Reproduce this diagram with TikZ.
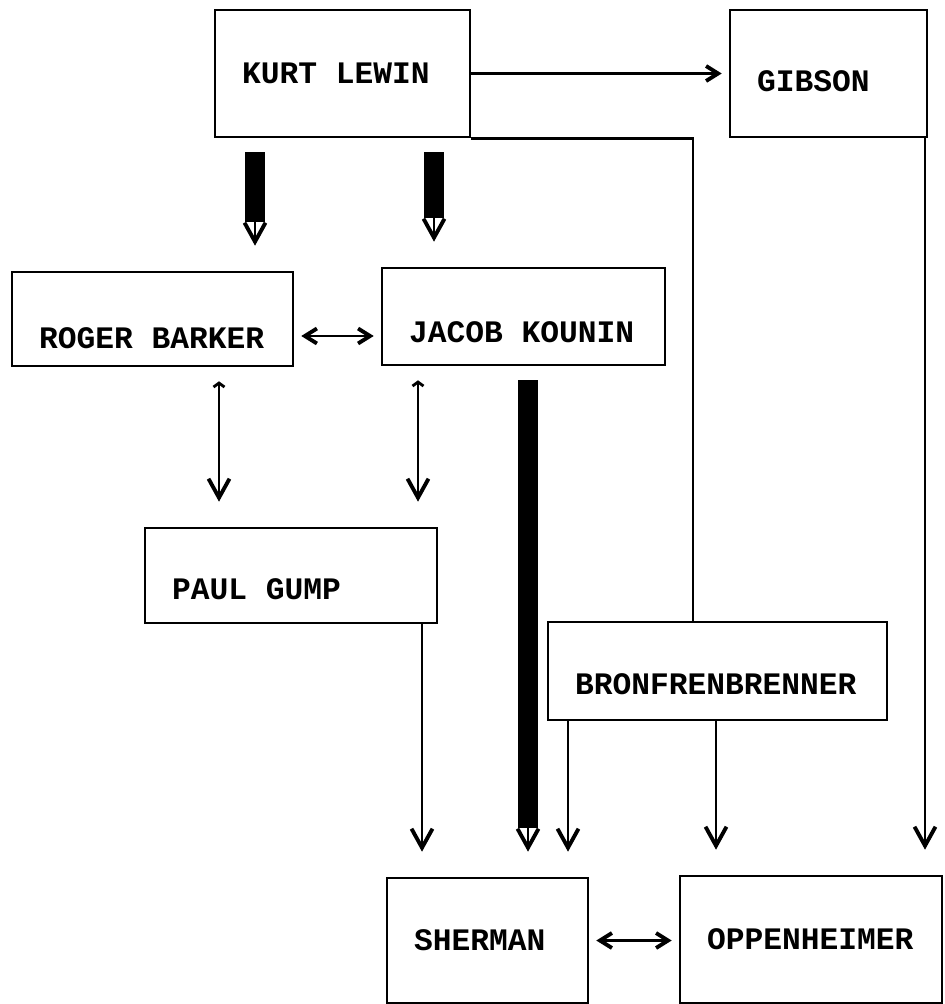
\documentclass[tikz,border=0pt]{standalone}
\usepackage{fontspec}
\setmonofont{Liberation Mono}
\usetikzlibrary{arrows.meta}

\begin{document}
\begin{tikzpicture}[
  x=0.02cm, y=-0.02cm,
  box/.style={draw, line width=1.5pt, font=\ttfamily\bfseries\fontsize{17.8}{20}\selectfont,
    execute at begin node={\spaceskip=0.6em\relax},
    align=left, inner xsep=0.54cm, inner ysep=0pt, text depth=0pt, text height=0.41cm},
  link/.style={line width=1.5pt},
  down/.style={link, >={Straight Barb[length=0.38cm, width=0.42cm, line width=2.2pt, sep=0.5cm]}, ->},
  caret/.style={down, {Straight Barb[length=0.08cm, width=0.22cm, line width=1.6pt, sep=0.28cm]}->},
  side/.style={link, >={Straight Barb[length=0.24cm, width=0.3cm, line width=2.2pt, sep=0.14cm]}},
  heavy/.style={down, shorten <=0.28cm, preaction={draw, -, line width=11pt, black, shorten >=0.98cm}},
]
  \useasboundingbox (0,0) rectangle (945,1004);

  % People
  \node[box, text width=4.02cm, minimum height=2.54cm] (lewin) at (342.5,73.5) {KURT LEWIN};
  \node[box, text width=2.86cm, minimum height=2.54cm, text height=0.73cm] (gibson) at (828.5,73.5) {GIBSON};
  \node[box, text width=4.54cm, minimum height=1.88cm, text height=1.17cm] (barker) at (152.5,319) {ROGER BARKER};
  \node[box, text width=4.58cm, minimum height=1.94cm, text height=1.05cm] (kounin) at (523.5,316.5) {JACOB KOUNIN};
  \node[box, text width=4.76cm, minimum height=1.9cm, text height=0.97cm] (gump) at (291,575.5) {PAUL GUMP};
  \node[box, text width=5.7cm, minimum height=1.96cm, text height=0.93cm] (bronf) at (717.5,671) {BRONFRENBRENNER};
  \node[box, text width=2.94cm, minimum height=2.5cm] (sherman) at (487.5,940.5) {SHERMAN};
  \node[box, text width=4.16cm, minimum height=2.54cm] (oppen) at (811,939.5) {OPPENHEIMER};

  % Lewin's lines
  \draw[side, ->] (lewin.east) -- (gibson.west);
  \draw[link] (lewin.south east) -| ([xshift=-0.49cm]bronf.north);
  \draw[heavy] (lewin.south -| 255,0) -- (barker.north -| 255,0);
  \draw[heavy] (lewin.south -| 434,0) -- (kounin.north -| 434,0);

  % Barker and Kounin
  \draw[side, <->] ([yshift=-0.34cm]barker.east) -- ([yshift=-0.34cm]barker.east -| kounin.west);
  \draw[caret] (barker.south -| 219,0) -- (gump.north -| 219,0);
  \draw[caret] (kounin.south -| 418,0) -- (gump.north -| 418,0);
  \draw[heavy] (kounin.south -| 528,0) -- (sherman.north -| 528,0);

  % Into Sherman and Oppenheimer
  \draw[down] (gump.south -| 422,0) -- (sherman.north -| 422,0);
  \draw[down] (bronf.south -| 568,0) -- (sherman.north -| 568,0);
  \draw[down] (bronf.south -| 716,0) -- (oppen.north -| 716,0);
  \draw[down] (gibson.south -| 925,0) -- (oppen.north -| 925,0);
  \draw[side, <->] (sherman.east) -- (sherman.east -| oppen.west);
\end{tikzpicture}
\end{document}
